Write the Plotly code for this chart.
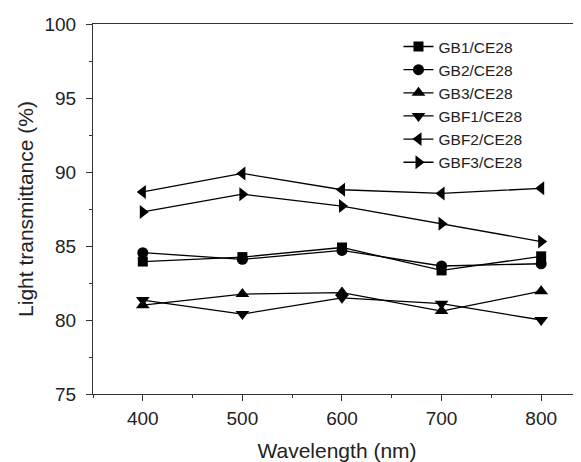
import plotly.graph_objects as go

wavelength = [400, 500, 600, 700, 800]
gb1 = [83.95, 84.25, 84.9, 83.35, 84.3]
gb2 = [84.55, 84.1, 84.7, 83.65, 83.8]
gb3 = [81.0, 81.75, 81.85, 80.6, 81.95]
gbf1 = [81.35, 80.4, 81.5, 81.1, 80.0]
gbf2 = [88.65, 89.9, 88.8, 88.55, 88.9]
gbf3 = [87.3, 88.5, 87.7, 86.5, 85.3]

names = ["GB1/CE28", "GB2/CE28", "GB3/CE28", "GBF1/CE28", "GBF2/CE28", "GBF3/CE28"]
series = [gb1, gb2, gb3, gbf1, gbf2, gbf3]
symbols = ["square", "circle", "triangle-up", "triangle-down", "triangle-left", "triangle-right"]
sizes = [10, 11, 12, 12, 12, 12]

font = "Liberation Sans, Arial, sans-serif"
fig = go.Figure()
for n, s, sym, sz in zip(names, series, symbols, sizes):
    fig.add_trace(go.Scatter(
        x=wavelength, y=s, name=n, mode="lines+markers",
        line=dict(color="black", width=1.3),
        marker=dict(symbol=sym, size=sz, color="black"),
    ))

# page body has an 8px default margin, so the figure is sized to fill the rest
fig.update_layout(
    width=573, height=454,
    margin=dict(l=85, r=0, t=16, b=68),
    paper_bgcolor="white", plot_bgcolor="white",
    font=dict(family=font, color="#222"),
    showlegend=True,
    legend=dict(x=0.626, y=0.984, xanchor="left", yanchor="top",
                font=dict(size=15.5, family=font, color="#222"),
                bgcolor="rgba(0,0,0,0)", tracegroupgap=0, itemwidth=30),
    xaxis=dict(range=[350, 840], tickvals=wavelength, ticks="outside", ticklen=6,
               showline=True, linecolor="#333", linewidth=1.2, mirror=True,
               showgrid=False, zeroline=False, tickcolor="#333", automargin=False,
               tickfont=dict(size=19, family=font, color="#222"), ticklabelstandoff=1,
               minor=dict(dtick=50, tick0=350, ticks="outside", ticklen=3, tickcolor="#333"),
               title=dict(text="Wavelength (nm)", font=dict(size=21, family=font, color="#222"), standoff=18)),
    yaxis=dict(range=[75, 100], dtick=5, ticks="outside", ticklen=6,
               showline=True, linecolor="#333", linewidth=1.2, mirror=False,
               showgrid=False, zeroline=False, tickcolor="#333", automargin=False,
               tickfont=dict(size=19, family=font, color="#222"), ticklabelstandoff=6,
               minor=dict(dtick=2.5, ticks="outside", ticklen=3, tickcolor="#333"),
               title=dict(text="Light transmittance (%)", font=dict(size=21, family=font, color="#222"), standoff=5)),
)
fig.write_html("out.html")
